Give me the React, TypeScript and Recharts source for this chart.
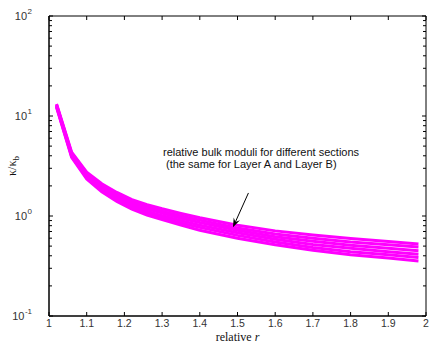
import React from 'react';
import { LineChart, Line, XAxis, YAxis, ReferenceArea, ReferenceLine } from 'recharts';

// relative radius samples
const rValues = [1.02, 1.06, 1.1, 1.14, 1.18, 1.22, 1.26, 1.3, 1.35, 1.4, 1.5, 1.6, 1.7, 1.8, 1.9, 1.98];

// relative bulk moduli per section (top to bottom of the band)
const section1 = [13.2, 4.35, 2.75, 2.1, 1.72, 1.46, 1.3, 1.18, 1.06, 0.96, 0.81, 0.71, 0.645, 0.595, 0.555, 0.525];
const section2 = [13.0, 4.25, 2.67, 2.03, 1.65, 1.4, 1.24, 1.12, 1.0, 0.91, 0.76, 0.66, 0.6, 0.55, 0.515, 0.49];
const section3 = [12.8, 4.15, 2.58, 1.96, 1.59, 1.34, 1.18, 1.07, 0.95, 0.86, 0.72, 0.62, 0.56, 0.51, 0.475, 0.45];
const section4 = [12.6, 4.05, 2.5, 1.89, 1.52, 1.28, 1.12, 1.01, 0.9, 0.81, 0.68, 0.585, 0.52, 0.475, 0.44, 0.415];
const section5 = [12.4, 3.95, 2.42, 1.82, 1.46, 1.22, 1.07, 0.96, 0.85, 0.77, 0.64, 0.55, 0.485, 0.44, 0.41, 0.385];
const section6 = [12.2, 3.85, 2.35, 1.75, 1.4, 1.17, 1.02, 0.92, 0.81, 0.72, 0.6, 0.515, 0.455, 0.41, 0.38, 0.355];

const sections = [section1, section2, section3, section4, section5, section6];

const xTicks = [1, 1.1, 1.2, 1.3, 1.4, 1.5, 1.6, 1.7, 1.8, 1.9, 2];
const yMajor = [0.1, 1, 10, 100];
const yMinor = [0.2, 0.3, 0.4, 0.5, 0.6, 0.7, 0.8, 0.9, 2, 3, 4, 5, 6, 7, 8, 9, 20, 30, 40, 50, 60, 70, 80, 90];

const data = rValues.map((r, i) => {
  const row: Record<string, number> = { r };
  sections.forEach((s, k) => {
    row[`s${k + 1}`] = s[i];
  });
  return row;
});

const W = 429;
const H = 351;
const PLOT_LEFT = 49;
const PLOT_RIGHT = 426;
const PLOT_TOP = 16;
const PLOT_BOTTOM = 316;
const TICK_FONT = 'Liberation Sans, Arial, sans-serif';
const SERIF = 'Liberation Serif, Times New Roman, serif';

const XTick = (props: any) => {
  const { x, y, payload } = props;
  return (
    <g>
      <line x1={x} y1={y} x2={x} y2={y - 4} stroke="#000" />
      <line x1={x} y1={PLOT_TOP} x2={x} y2={PLOT_TOP + 4} stroke="#000" />
      <text x={x} y={y + 11} textAnchor="middle" fontSize={10.5} fontFamily={TICK_FONT} fill="#333">
        {String(payload.value)}
      </text>
    </g>
  );
};

const YTick = (props: any) => {
  const { x, y, payload } = props;
  const v = payload.value as number;
  const major = yMajor.some((m) => Math.abs(m - v) < 1e-9);
  const len = major ? 4 : 3;
  return (
    <g>
      <line x1={x} y1={y} x2={x + len} y2={y} stroke="#000" />
      <line x1={PLOT_RIGHT} y1={y} x2={PLOT_RIGHT - len} y2={y} stroke="#000" />
      {major && (
        <text x={x - 17} y={y + 4} textAnchor="end" fontSize={11} fontFamily={TICK_FONT} fill="#333">
          10
          <tspan fontSize={8} dx={0.5} dy={-6}>
            {String(Math.round(Math.log10(v)))}
          </tspan>
        </text>
      )}
    </g>
  );
};

const ArrowShape = (props: any) => {
  const { x1, y1, x2, y2 } = props;
  if (x1 == null) return null;
  const ang = Math.atan2(y2 - y1, x2 - x1);
  const len = 10;
  const spread = 0.35;
  const p1 = [x2 - len * Math.cos(ang - spread), y2 - len * Math.sin(ang - spread)];
  const p2 = [x2 - len * Math.cos(ang + spread), y2 - len * Math.sin(ang + spread)];
  const back = [x2 - 6 * Math.cos(ang), y2 - 6 * Math.sin(ang)];
  return (
    <g>
      <line x1={x1} y1={y1} x2={back[0]} y2={back[1]} stroke="#000" strokeWidth={1} />
      <polygon points={`${x2},${y2} ${p1[0]},${p1[1]} ${back[0]},${back[1]} ${p2[0]},${p2[1]}`} fill="#000" />
    </g>
  );
};

export default function App() {
  return (
    <div style={{ position: 'absolute', left: 0, top: 0, width: W, height: H, background: '#fff' }}>
      <LineChart
        width={W}
        height={H}
        data={data}
        margin={{ top: PLOT_TOP, right: W - PLOT_RIGHT, bottom: 0, left: 0 }}
      >
        <XAxis
          dataKey="r"
          type="number"
          domain={[1, 2]}
          ticks={xTicks}
          height={H - PLOT_BOTTOM}
          tickSize={0}
          tickMargin={0}
          tickLine={false}
          tick={XTick}
          interval={0}
          axisLine={{ stroke: '#000' }}
          allowDataOverflow
        />
        <YAxis
          type="number"
          scale="log"
          domain={[0.1, 100]}
          ticks={[...yMajor, ...yMinor].sort((a, b) => a - b)}
          width={PLOT_LEFT}
          tickSize={0}
          tickMargin={0}
          tickLine={false}
          tick={YTick}
          interval={0}
          axisLine={{ stroke: '#000' }}
          allowDataOverflow
        />
        <ReferenceArea x1={1} x2={2} y1={0.1} y2={100} fill="none" stroke="#000" strokeWidth={1} />
        {sections.map((_, k) => (
          <Line
            key={k}
            type="linear"
            dataKey={`s${k + 1}`}
            stroke="#ff00ff"
            strokeWidth={3}
            dot={false}
            isAnimationActive={false}
          />
        ))}
        <ReferenceLine
          segment={[
            { x: 1.529, y: 1.7 },
            { x: 1.488, y: 0.77 },
          ]}
          shape={ArrowShape}
        />
        <text x={163} y={156} fontSize={11} fontFamily={TICK_FONT} fill="#111">
          relative bulk moduli for different sections
        </text>
        <text x={166} y={168} fontSize={11} fontFamily={TICK_FONT} fill="#111">
          (the same for Layer A and Layer B)
        </text>
        <text
          x={(PLOT_LEFT + PLOT_RIGHT) / 2}
          y={341}
          textAnchor="middle"
          fontSize={12}
          fontFamily={SERIF}
          fill="#111"
        >
          relative <tspan fontStyle="italic">r</tspan>
        </text>
        <text
          x={16}
          y={166}
          textAnchor="middle"
          fontSize={12}
          fontFamily={SERIF}
          fill="#111"
          transform="rotate(-90 16 166)"
        >
          κ/κ<tspan fontSize={9} dy={3}>b</tspan>
        </text>
      </LineChart>
    </div>
  );
}
